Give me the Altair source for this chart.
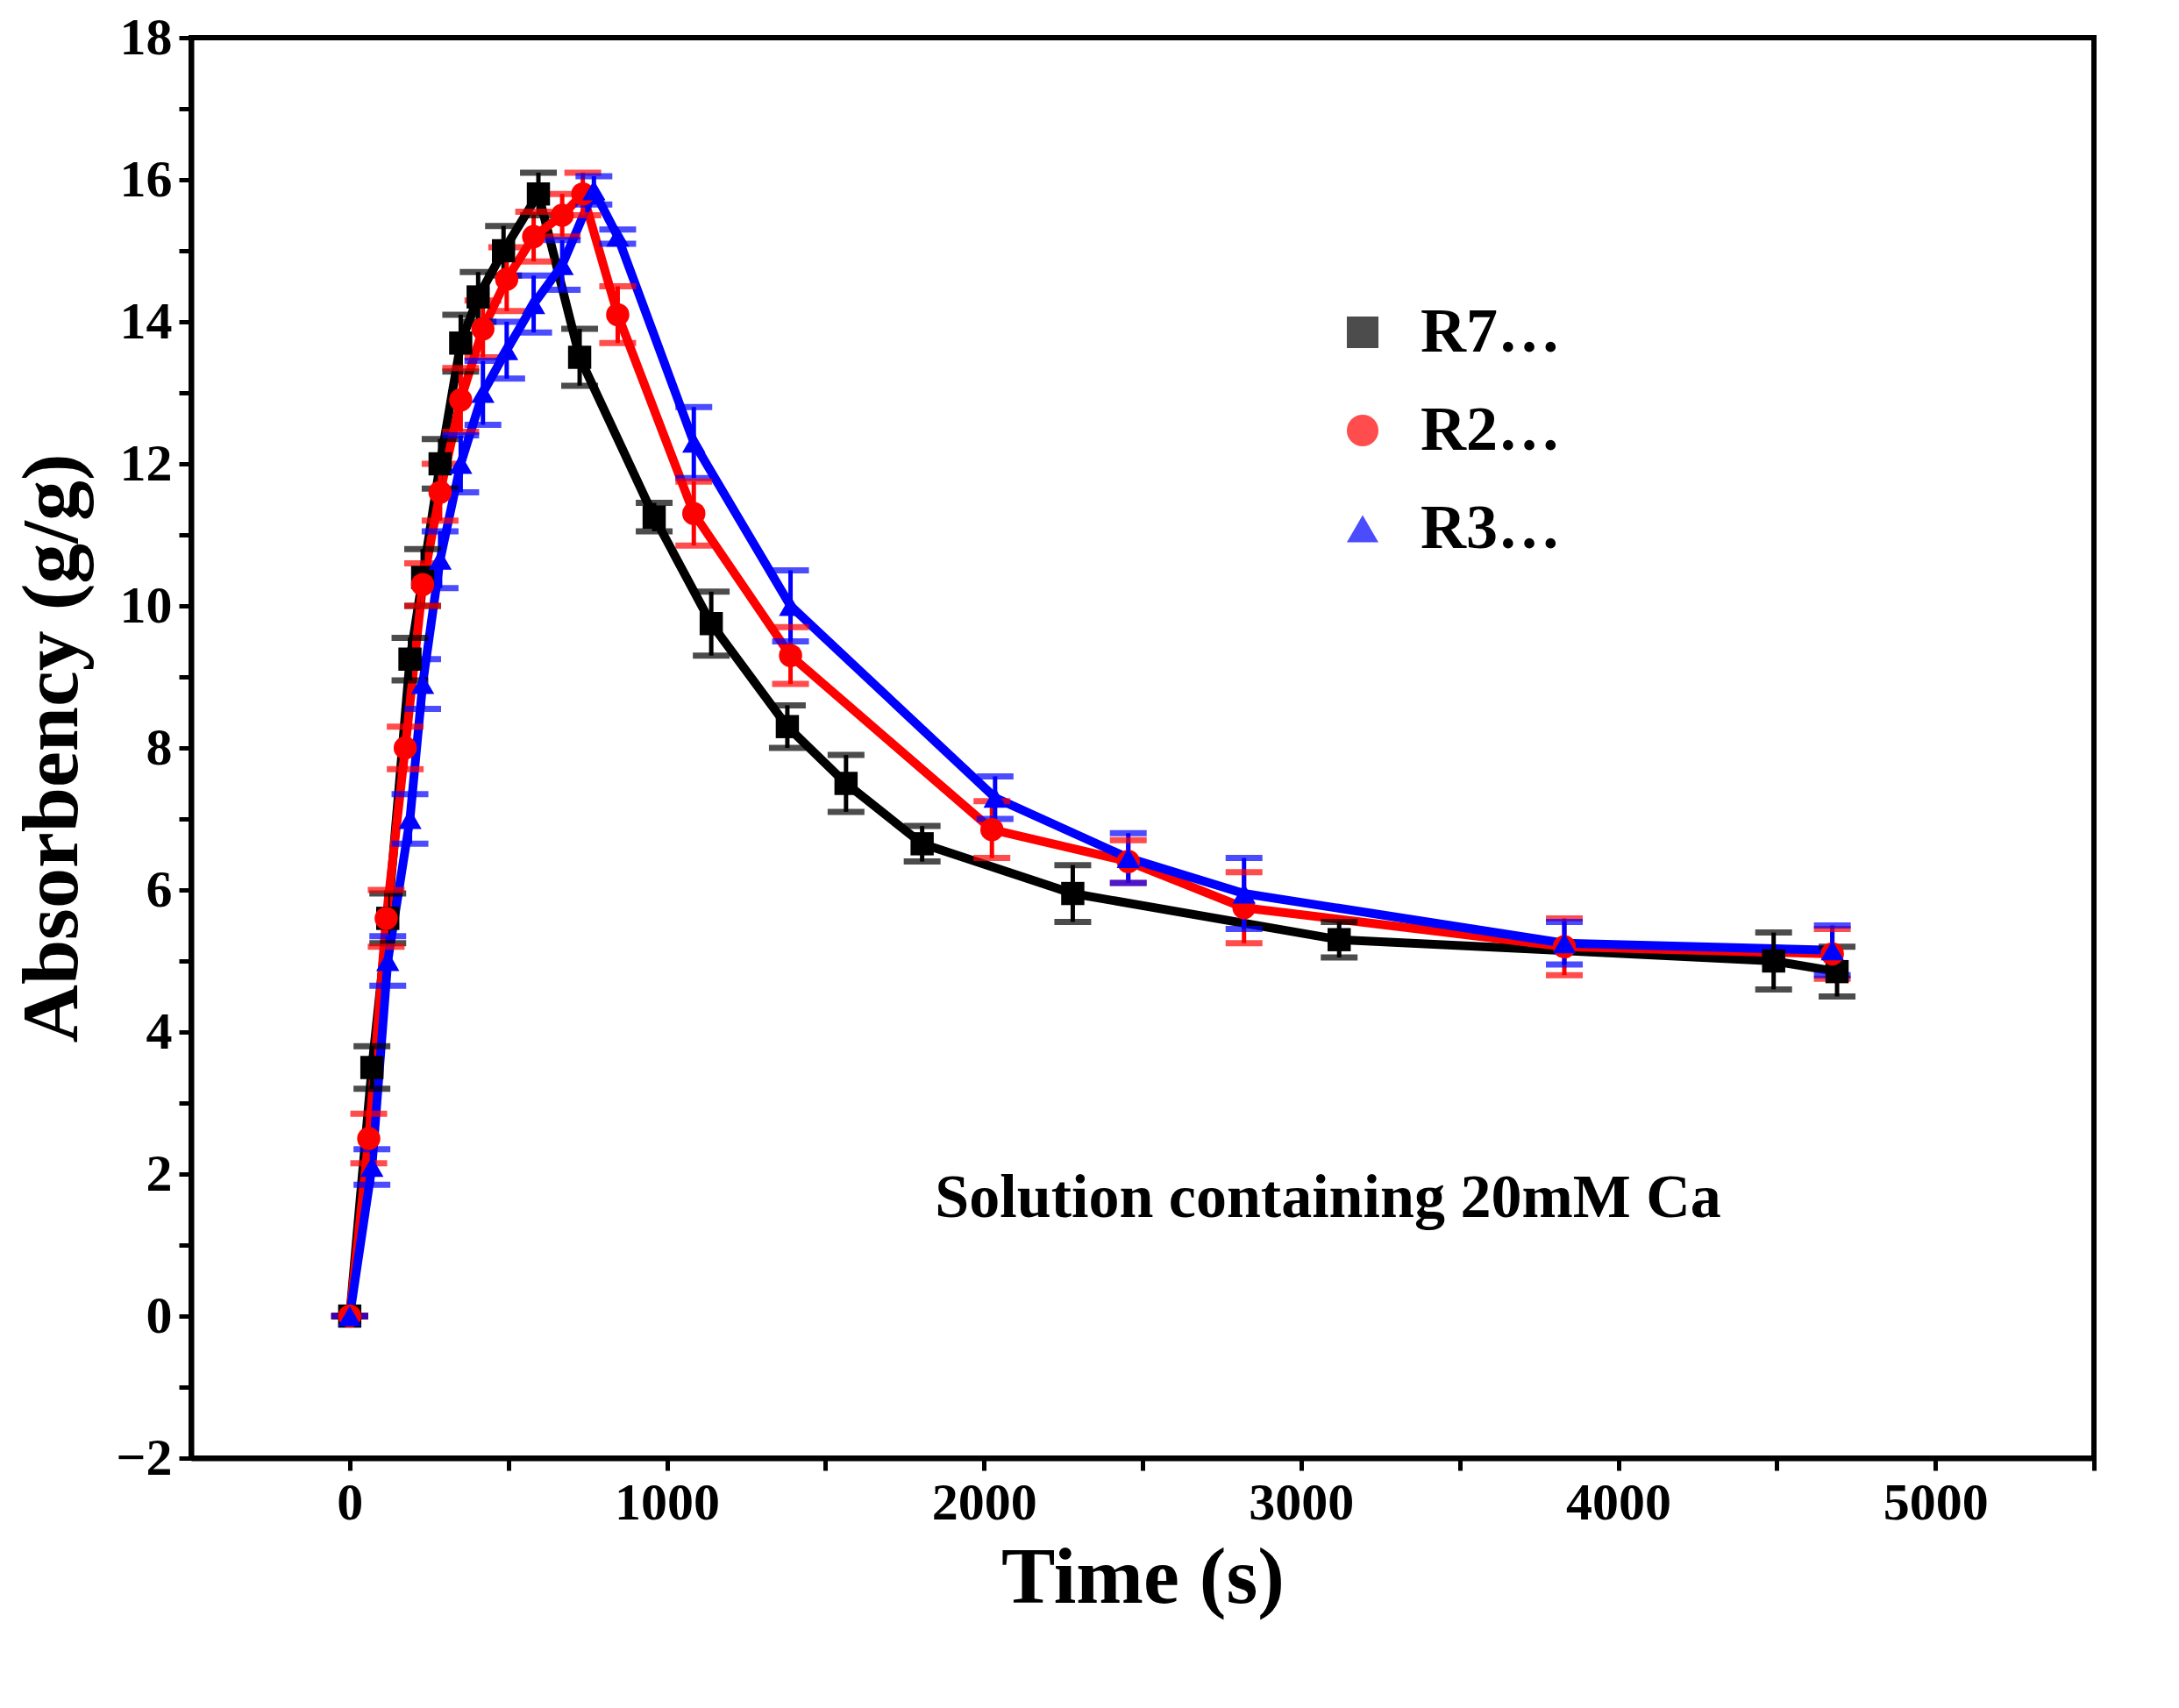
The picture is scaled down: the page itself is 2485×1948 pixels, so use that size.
import pandas as pd
import altair as alt

series = ['R75\u221220Ca', 'R200\u221220Ca', 'R300\u221220Ca']
colors = ['#000000', '#ff0000', '#0000ff']
shapes = ['square', 'circle', 'triangle-up']

t_black = [0, 70, 120, 190, 230, 285, 350, 405, 485, 595, 725, 960, 1140, 1380, 1565, 1805, 2280, 3120, 4490, 4690]
y_black = [0, 3.5, 5.6, 9.25, 10.4, 12.0, 13.7, 14.35, 15.0, 15.8, 13.5, 11.25, 9.75, 8.3, 7.5, 6.65, 5.95, 5.3, 5.0, 4.85]
e_black = [0, 0.3, 0.35, 0.3, 0.4, 0.35, 0.4, 0.35, 0.35, 0.3, 0.4, 0.2, 0.45, 0.3, 0.4, 0.25, 0.4, 0.25, 0.4, 0.35]

t_red = [0, 60, 115, 175, 230, 285, 350, 420, 495, 580, 670, 735, 845, 1085, 1390, 2025, 2455, 2820, 3830, 4675]
y_red = [0, 2.5, 5.6, 8.0, 10.3, 11.6, 12.9, 13.9, 14.6, 15.2, 15.5, 15.8, 14.1, 11.3, 9.3, 6.85, 6.4, 5.75, 5.2, 5.1]
e_red = [0, 0.35, 0.4, 0.3, 0.3, 0.4, 0.45, 0.4, 0.45, 0.35, 0.3, 0.3, 0.4, 0.45, 0.4, 0.4, 0.3, 0.5, 0.4, 0.35]

t_blue = [0, 70, 120, 190, 230, 285, 350, 420, 495, 580, 670, 770, 845, 1085, 1390, 2035, 2455, 2820, 3830, 4675]
y_blue = [0, 2.1, 5.0, 7.0, 8.9, 10.65, 12.0, 13.0, 13.6, 14.25, 14.8, 15.85, 15.2, 12.3, 10.0, 7.3, 6.45, 5.95, 5.25, 5.15]
e_blue = [0, 0.25, 0.35, 0.35, 0.35, 0.4, 0.4, 0.45, 0.4, 0.4, 0.35, 0.2, 0.1, 0.5, 0.5, 0.3, 0.35, 0.5, 0.3, 0.35]

note_text = ['Solution containing 20mM Ca']
note_t = [3085]
note_y = [1.65]

frames = []
for name, t, y, e in [(series[0], t_black, y_black, e_black),
                      (series[1], t_red, y_red, e_red),
                      (series[2], t_blue, y_blue, e_blue)]:
    df = pd.DataFrame({'time': t, 'abs': y, 'err': e})
    df['series'] = name
    frames.append(df)
data = pd.concat(frames, ignore_index=True)
data['lo'] = data['abs'] - data['err']
data['hi'] = data['abs'] + data['err']

font = 'Liberation Serif'
xs = alt.Scale(domain=[-500, 5500], nice=False)
ys = alt.Scale(domain=[-2, 18], nice=False)
col = alt.Scale(domain=series, range=colors)
shp = alt.Scale(domain=series, range=shapes)

legend = alt.Legend(
    title=None, orient='none', legendX=1300, legendY=300,
    labelFont=font, labelFontSize=72, labelFontWeight='bold', labelColor='black',
    symbolSize=1300, symbolStrokeWidth=0, rowPadding=40, labelOffset=30)
color_enc = alt.Color('series:N', scale=col, legend=legend)
shape_enc = alt.Shape('series:N', scale=shp, legend=legend)

x_axis = alt.Axis(values=list(range(0, 5501, 500)), labelExpr="datum.value % 1000 == 0 ? datum.label : ''",
                  title='Time (s)', grid=False, format='d')
y_axis = alt.Axis(values=list(range(-2, 19)), labelExpr="datum.value % 2 == 0 ? datum.label : ''",
                  title='Absorbency (g/g)', grid=False, format='d')

base = alt.Chart(data)

lines = base.mark_line(strokeWidth=10).encode(
    x=alt.X('time:Q', scale=xs, axis=x_axis),
    y=alt.Y('abs:Q', scale=ys, axis=y_axis),
    color=color_enc,
    detail='series:N'
)

bars = base.mark_rule(strokeWidth=5).encode(
    x='time:Q', y='lo:Q', y2='hi:Q', color=color_enc
)
caps_lo = base.mark_tick(thickness=7, size=42, orient='horizontal').encode(
    x='time:Q', y='lo:Q', color=color_enc)
caps_hi = base.mark_tick(thickness=7, size=42, orient='horizontal').encode(
    x='time:Q', y='hi:Q', color=color_enc)

points = base.mark_point(filled=True, size=700, opacity=1).encode(
    x='time:Q', y='abs:Q', color=color_enc, shape=shape_enc
)

note = alt.Chart(pd.DataFrame({'text': note_text, 't': note_t, 'y': note_y})).mark_text(
    font=font, fontSize=70, fontWeight='bold', color='black'
).encode(x='t:Q', y='y:Q', text='text:N')

chart = alt.layer(lines, bars, caps_lo, caps_hi, points, note).properties(
    width=2170, height=1620
).configure_view(
    stroke='black', strokeWidth=6
).configure_axis(
    labelFont=font, titleFont=font, labelFontSize=60, titleFontSize=92,
    labelFontWeight='bold', titleFontWeight='bold', labelColor='black', titleColor='black',
    domainColor='black', domainWidth=6, tickColor='black', tickWidth=5, tickSize=14,
    labelPadding=8
).configure_axisX(titlePadding=10).configure_axisY(titlePadding=25)

chart.save("out.html", embed_options={"renderer": "svg", "actions": False})
